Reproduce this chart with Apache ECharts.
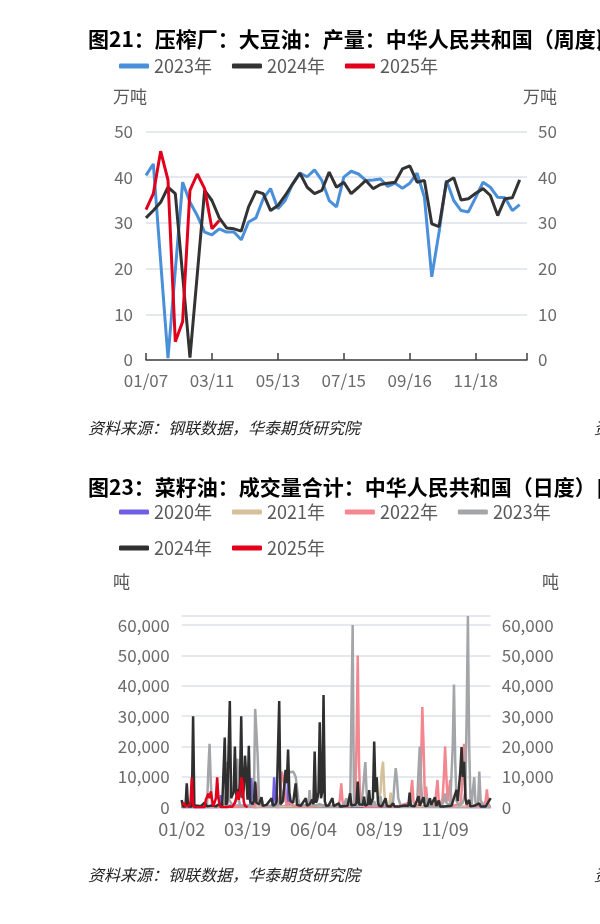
<!DOCTYPE html>
<html>
<head>
<meta charset="utf-8">
<script src="https://cdn.jsdelivr.net/npm/echarts@6/dist/echarts.min.js"></script>
<style>
html,body{margin:0;padding:0;background:#fff;width:600px;height:924px;overflow:hidden;}
#c1{position:absolute;left:0;top:0;width:600px;height:462px;}
#c2{position:absolute;left:0;top:462px;width:600px;height:462px;}
</style>
</head>
<body>
<div id="c1"></div>
<div id="c2"></div>
<script>
// ---------- Chart 1: weekly soybean oil output (万吨) ----------
const weeks = ['01/07','01/14','01/21','01/28','02/04','02/11','02/18','02/25','03/04','03/11','03/18','03/25','04/01','04/08','04/15','04/22','04/29','05/06','05/13','05/20','05/27','06/03','06/10','06/17','06/24','07/01','07/08','07/15','07/22','07/29','08/05','08/12','08/19','08/26','09/02','09/09','09/16','09/23','09/30','10/07','10/14','10/21','10/28','11/04','11/11','11/18','11/25','12/02','12/09','12/16','12/23','12/30','01/06'];
const oil2023 = [40.4,42.9,21.6,0.4,19.6,38.9,34.5,31.6,28.0,27.4,28.7,28.0,28.0,26.3,30.2,31.1,35.3,37.5,33.1,34.9,38.5,40.9,40.1,41.6,39.3,34.9,33.5,40.0,41.3,40.7,39.3,39.4,39.6,38.0,38.7,37.6,38.7,40.9,35.6,18.2,28.0,39.3,34.9,32.7,32.4,35.6,38.9,37.8,35.6,35.5,32.7,34.0];
const oil2024 = [31.1,32.7,34.5,37.8,36.4,18.5,0.5,18.8,37.1,34.9,31.1,28.9,28.7,28.2,33.5,36.9,36.4,32.7,33.8,36.0,38.5,40.9,37.8,36.4,37.1,41.1,37.8,38.9,36.4,37.8,39.3,37.5,38.4,38.7,38.9,41.8,42.5,38.9,39.3,29.8,29.2,38.9,39.9,35.0,35.3,36.5,37.5,36.0,31.6,35.3,35.5,39.4];
const oil2025 = [32.9,36.4,45.7,39.4,4.0,8.4,37.1,40.7,37.5,28.7,30.5];

// ---------- Chart 2: daily rapeseed oil volume (吨), [tradingDayIndex, value] ----------
const dayTicks = ['01/02','03/19','06/04','08/19','11/09'];
const vol2020 = [[0,0],[29,0],[30,2000],[31,4000],[32,500],[54,500],[55,9600],[56,2000],[57,0],[72,500],[73,9900],[74,3000],[75,0],[83,500],[84,8000],[85,500],[86,0],[244,0]];
const vol2021 = [[0,300],[100,300],[155,500],[157,5000],[158,12000],[159,15000],[160,5000],[161,500],[164,1000],[165,4800],[166,1000],[168,300],[244,300]];
const vol2022 = [[0,300],[10,500],[30,300],[50,300],[58,500],[59,3000],[60,7900],[61,1000],[64,300],[76,500],[78,5000],[79,11800],[80,12000],[81,8000],[82,3000],[83,500],[86,2000],[88,500],[100,300],[110,800],[120,300],[124,500],[125,3000],[126,7900],[127,2000],[128,300],[134,500],[137,2000],[138,20000],[139,50000],[140,15000],[141,1000],[144,300],[160,300],[170,300],[180,1500],[181,5000],[182,9000],[183,2000],[184,300],[188,1000],[189,15000],[190,33000],[191,20000],[192,3000],[193,6800],[194,1500],[195,300],[200,1000],[201,5000],[202,9000],[203,2000],[204,500],[206,3000],[207,10000],[208,20000],[209,10000],[210,2000],[211,5000],[212,9000],[213,2000],[214,500],[220,1000],[221,5000],[222,15000],[223,20900],[224,5000],[225,500],[238,500],[240,2000],[241,5900],[242,1500],[243,300],[244,300]];
const vol2023 = [[0,2000],[2,300],[6,300],[20,500],[21,12000],[22,20900],[23,8000],[24,500],[30,300],[34,500],[35,5000],[36,15000],[37,3000],[40,500],[43,2000],[44,16000],[45,3000],[46,500],[55,500],[57,3000],[58,32400],[59,25000],[60,16700],[61,3000],[62,500],[63,3000],[64,500],[70,300],[75,500],[77,2000],[78,500],[84,12000],[85,12300],[86,11500],[88,11800],[89,11000],[90,10000],[91,9600],[92,3000],[93,500],[96,800],[100,500],[101,5700],[102,1000],[106,500],[109,1000],[112,500],[118,300],[120,300],[124,500],[128,500],[130,3000],[131,500],[133,1000],[134,30000],[135,60000],[136,2000],[137,500],[140,500],[142,2000],[143,5000],[144,10000],[145,14900],[146,5000],[147,800],[150,500],[152,2000],[153,800],[156,500],[157,3700],[158,500],[162,500],[165,600],[167,2000],[168,8000],[169,12900],[170,9000],[171,3000],[172,3000],[173,500],[177,300],[183,500],[186,2000],[187,12000],[188,20000],[189,8000],[190,1500],[193,3500],[194,500],[198,300],[205,500],[207,2000],[208,4600],[209,1500],[212,500],[214,20000],[215,40400],[216,15000],[217,2000],[219,500],[222,1500],[224,5000],[225,30000],[226,63000],[227,20000],[228,3000],[229,1000],[230,6000],[231,9900],[232,1500],[234,800],[235,11800],[236,2500],[238,500],[240,300],[244,300]];
const vol2024 = [[0,2400],[1,300],[3,300],[4,7900],[5,300],[8,300],[9,30000],[10,300],[12,500],[15,300],[18,1500],[20,300],[24,600],[27,300],[30,1200],[32,500],[33,1000],[34,23000],[35,800],[36,1500],[37,2000],[38,35000],[39,3000],[40,2500],[41,5000],[42,20000],[43,4000],[44,6000],[45,3000],[46,8000],[47,30000],[48,3000],[49,6000],[50,17000],[51,10000],[52,2500],[53,20300],[54,2000],[56,1000],[57,2000],[58,8500],[59,1500],[61,1000],[63,3300],[64,500],[67,800],[68,500],[71,3000],[72,500],[74,1000],[75,2000],[76,1500],[77,35000],[78,1000],[80,2000],[82,12300],[83,8000],[84,19000],[85,5000],[86,2000],[88,1500],[90,7900],[91,800],[94,500],[98,3000],[99,500],[101,1000],[103,2500],[104,1000],[105,18400],[106,1500],[107,2500],[108,5000],[109,28000],[110,3000],[111,5000],[112,37000],[113,2000],[114,500],[116,600],[119,3000],[120,400],[124,1300],[125,300],[131,500],[133,4600],[134,600],[137,800],[138,1500],[139,8500],[140,1000],[143,800],[144,3500],[145,500],[147,1000],[148,5700],[149,800],[151,3000],[152,21700],[153,5000],[154,9900],[155,1500],[156,500],[158,300],[161,3000],[162,400],[165,300],[167,1300],[168,300],[172,300],[176,600],[179,500],[180,4800],[181,500],[184,300],[187,3700],[188,500],[191,3300],[192,400],[194,500],[196,3000],[197,800],[198,500],[200,3300],[201,400],[203,2200],[204,300],[207,300],[213,500],[217,5700],[218,2000],[220,11800],[221,19800],[222,10000],[223,15000],[224,3000],[225,1000],[227,2400],[228,300],[231,500],[235,1300],[236,300],[240,300],[244,3000]];
const vol2025 = [[0,800],[1,300],[2,1300],[3,300],[6,500],[7,2000],[8,9900],[9,800],[10,0],[18,0],[19,2400],[20,3000],[21,4500],[22,3000],[23,5200],[24,2400],[25,300],[26,500],[27,3000],[28,9900],[29,3000],[30,800],[31,0],[36,0],[38,300],[39,500],[40,200],[42,1500],[43,3000],[44,5200],[45,2500],[46,4000],[47,9900],[48,8500],[49,1900],[50,500],[51,800],[52,0]];

const FONT = '"Noto Sans CJK SC","Noto Sans",sans-serif';
const LABEL = '#6b6b6b';
const GRID = '#dde1ea';

function txt(x, y, text, opt) {
  return Object.assign({type:'text', x:x, y:y, silent:true, style:Object.assign({text:text, fontFamily:FONT, fontSize:17, fill:'#595959', align:'left', verticalAlign:'middle'}, opt || {})});
}

const c1 = echarts.init(document.getElementById('c1'), null, {renderer:'canvas'});
c1.setOption({
  animation:false,
  textStyle:{fontFamily:FONT},
  title:{text:'图21：压榨厂：大豆油：产量：中华人民共和国（周度）', left:88, top:29, padding:0,
    textStyle:{fontSize:21, fontWeight:'bold', color:'#000', fontFamily:FONT}},
  legend:{left:119, top:57, padding:0, icon:'roundRect', itemWidth:30, itemHeight:5, itemGap:20,
    textStyle:{fontSize:18, color:'#595959', fontFamily:FONT},
    data:['2023年','2024年','2025年']},
  grid:{left:146, right:73, top:131.5, bottom:102},
  xAxis:{type:'category', data:weeks, boundaryGap:false,
    axisLine:{lineStyle:{color:'#404040', width:1.5}},
    axisTick:{inside:true, length:7, interval:function(i){return i%9===0 || i===52;}, lineStyle:{color:'#404040', width:1.5}},
    axisLabel:{interval:function(i){return i%9===0;}, fontSize:17, color:LABEL, margin:12, fontFamily:FONT}},
  yAxis:[
    {type:'value', min:0, max:50, interval:10, position:'left',
      axisLine:{show:false}, axisTick:{show:false},
      splitLine:{lineStyle:{color:GRID, width:1.5}},
      axisLabel:{fontSize:17, color:LABEL, margin:13, fontFamily:FONT}},
    {type:'value', min:0, max:50, interval:10, position:'right',
      axisLine:{show:false}, axisTick:{show:false}, splitLine:{show:false},
      axisLabel:{fontSize:17, color:LABEL, margin:11, fontFamily:FONT}}
  ],
  series:[
    {name:'2023年', type:'line', data:oil2023, symbol:'none', lineStyle:{width:3, color:'#4a8fd9'}, itemStyle:{color:'#4a8fd9'}},
    {name:'2024年', type:'line', data:oil2024, symbol:'none', lineStyle:{width:3, color:'#333333'}, itemStyle:{color:'#333333'}},
    {name:'2025年', type:'line', data:oil2025, symbol:'none', lineStyle:{width:3, color:'#e0001b'}, itemStyle:{color:'#e0001b'}}
  ],
  graphic:[
    txt(130, 97, '万吨', {align:'center'}),
    txt(540, 97, '万吨', {align:'center'}),
    txt(88, 428, '资料来源：钢联数据，华泰期货研究院', {fontSize:16, fill:'#222', fontStyle:'italic'}),
    txt(594, 428, '资料来源', {fontSize:16, fill:'#222', fontStyle:'italic'}),
    txt(597, 40, '图22', {fontSize:21, fill:'#000', fontWeight:'bold'})
  ]
});

const c2 = echarts.init(document.getElementById('c2'), null, {renderer:'canvas'});
function vs(name, data, color) {
  return {name:name, type:'line', data:data, symbol:'none', lineStyle:{width:2.5, color:color}, itemStyle:{color:color}};
}
c2.setOption({
  animation:false,
  textStyle:{fontFamily:FONT},
  title:{text:'图23：菜籽油：成交量合计：中华人民共和国（日度）', left:88, top:15, padding:0,
    textStyle:{fontSize:21, fontWeight:'bold', color:'#000', fontFamily:FONT}},
  legend:[
    {left:119, top:41, padding:0, icon:'roundRect', itemWidth:30, itemHeight:5, itemGap:20,
      textStyle:{fontSize:18, color:'#595959', fontFamily:FONT},
      data:['2020年','2021年','2022年','2023年']},
    {left:119, top:77, padding:0, icon:'roundRect', itemWidth:30, itemHeight:5, itemGap:20,
      textStyle:{fontSize:18, color:'#595959', fontFamily:FONT},
      data:['2024年','2025年']}
  ],
  grid:{left:181.7, right:109.3, top:154, bottom:116.7},
  xAxis:{type:'value', min:0, max:244, interval:52,
    splitLine:{show:false}, axisTick:{show:false},
    axisLine:{lineStyle:{color:'#555'}},
    axisLabel:{formatter:function(v){return v%52===0 && dayTicks[v/52] ? dayTicks[v/52] : '';},
      fontSize:18, color:LABEL, margin:13, fontFamily:FONT}},
  yAxis:[
    {type:'value', min:0, max:63000, interval:10000, position:'left',
      axisLine:{show:false}, axisTick:{show:false},
      splitLine:{lineStyle:{color:GRID, width:1.5}},
      axisLabel:{formatter:function(v){return v%10000===0 ? v.toLocaleString('en-US') : '';}, fontSize:17, color:LABEL, margin:12, fontFamily:FONT}},
    {type:'value', min:0, max:63000, interval:10000, position:'right',
      axisLine:{show:false}, axisTick:{show:false}, splitLine:{show:false},
      axisLabel:{formatter:function(v){return v%10000===0 ? v.toLocaleString('en-US') : '';}, fontSize:17, color:LABEL, margin:11, fontFamily:FONT}}
  ],
  series:[
    vs('2020年', vol2020, '#6f5ee6'),
    vs('2021年', vol2021, '#d6c09c'),
    vs('2022年', vol2022, '#f4868f'),
    vs('2023年', vol2023, '#a3a5a8'),
    vs('2024年', vol2024, '#2f2f2f'),
    vs('2025年', vol2025, '#e3001a')
  ],
  graphic:[
    txt(121.5, 120, '吨', {align:'center'}),
    txt(550.5, 120, '吨', {align:'center'}),
    txt(88, 413, '资料来源：钢联数据，华泰期货研究院', {fontSize:16, fill:'#222', fontStyle:'italic'}),
    txt(594, 413, '资料来源', {fontSize:16, fill:'#222', fontStyle:'italic'}),
    txt(597, 26, '图24', {fontSize:21, fill:'#000', fontWeight:'bold'})
  ]
});
</script>
</body>
</html>
